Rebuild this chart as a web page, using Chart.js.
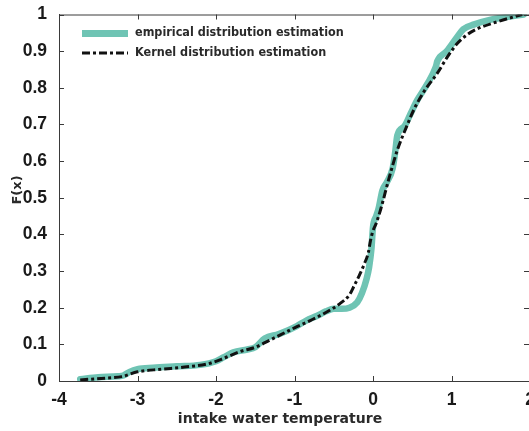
<!DOCTYPE html>
<html>
<head>
<meta charset="utf-8">
<script src="https://cdn.jsdelivr.net/npm/chart.js@4"></script>
<style>
  html, body { margin: 0; padding: 0; background: #fff; }
  #wrap { width: 529px; height: 431px; overflow: hidden; position: relative; }
  #box { width: 542px; height: 431px; }
</style>
</head>
<body>
<div id="wrap"><div id="box"><canvas id="chart"></canvas></div></div>
<script>
// empirical distribution
var empX = [-3.73, -3.5, -3.25, -3.18, -3.1, -3.0, -2.8, -2.5, -2.2, -2.0, -1.9, -1.78, -1.6, -1.5, -1.38, -1.2, -0.97, -0.85, -0.71, -0.6, -0.5, -0.4, -0.3, -0.2, -0.14, -0.08, -0.05, -0.02, 0.0, 0.04, 0.07, 0.12, 0.17, 0.25, 0.28, 0.31, 0.4, 0.48, 0.56, 0.69, 0.8, 0.82, 0.94, 1.07, 1.15, 1.29, 1.5, 1.7, 1.92];
var empF = [0.005, 0.01, 0.013, 0.015, 0.025, 0.032, 0.036, 0.04, 0.044, 0.054, 0.065, 0.078, 0.086, 0.092, 0.116, 0.128, 0.15, 0.165, 0.178, 0.19, 0.197, 0.197, 0.2, 0.215, 0.24, 0.28, 0.31, 0.36, 0.42, 0.45, 0.47, 0.52, 0.54, 0.58, 0.62, 0.67, 0.695, 0.73, 0.765, 0.81, 0.857, 0.873, 0.9, 0.938, 0.96, 0.973, 0.986, 0.993, 1.0];
// kernel estimate
var kerX = [-3.73, -3.4, -3.2, -3.0, -2.7, -2.4, -2.1, -1.9, -1.7, -1.5, -1.3, -1.0, -0.8, -0.6, -0.41, -0.3, -0.24, -0.17, -0.11, -0.06, -0.03, 0.0, 0.04, 0.1, 0.2, 0.31, 0.42, 0.52, 0.65, 0.82, 0.95, 1.07, 1.2, 1.32, 1.58, 1.9];
var kerF = [0.003, 0.008, 0.012, 0.025, 0.032, 0.038, 0.047, 0.062, 0.08, 0.092, 0.113, 0.145, 0.165, 0.187, 0.213, 0.235, 0.26, 0.29, 0.32, 0.35, 0.385, 0.41, 0.43, 0.47, 0.55, 0.63, 0.69, 0.74, 0.79, 0.84, 0.885, 0.92, 0.945, 0.96, 0.98, 1.0];
var xTicks = [-4, -3, -2, -1, 0, 1, 2];
var yTicks = [0, 0.1, 0.2, 0.3, 0.4, 0.5, 0.6, 0.7, 0.8, 0.9, 1];
var seriesNames = ['empirical distribution estimation', 'Kernel distribution estimation'];
var xTitle = 'intake water temperature';
var yTitle = 'F(x)';

var teal = '#6fc4b4';
var axisCol = '#3a3a3a';
var dashDot = [8, 3, 3, 3];

function pts(xs, ys) {
  return xs.map(function (x, i) { return {x: x, y: ys[i]}; });
}

// inward ticks on all sides, top box line, legend and axis titles
var boxPlugin = {
  id: 'boxPlugin',
  afterDraw: function (chart) {
    var ctx = chart.ctx, a = chart.chartArea;
    var xs = chart.scales.x, ys = chart.scales.y;
    ctx.save();
    ctx.strokeStyle = axisCol;
    ctx.lineWidth = 1;
    ctx.beginPath();
    ctx.moveTo(a.left, a.top + 0.5); ctx.lineTo(a.right, a.top + 0.5);
    xTicks.forEach(function (t) {
      var px = Math.round(xs.getPixelForValue(t)) + 0.5;
      ctx.moveTo(px, a.bottom); ctx.lineTo(px, a.bottom - 5);
      ctx.moveTo(px, a.top); ctx.lineTo(px, a.top + 5);
    });
    yTicks.forEach(function (t) {
      var py = Math.round(ys.getPixelForValue(t)) + 0.5;
      ctx.moveTo(a.left, py); ctx.lineTo(a.left + 5, py);
      ctx.moveTo(a.right, py); ctx.lineTo(a.right - 6, py);
    });
    ctx.stroke();

    // legend
    ctx.strokeStyle = teal;
    ctx.lineWidth = 7;
    ctx.beginPath(); ctx.moveTo(82, 33.5); ctx.lineTo(128, 33.5); ctx.stroke();
    ctx.strokeStyle = '#111';
    ctx.lineWidth = 3;
    ctx.setLineDash(dashDot);
    ctx.beginPath(); ctx.moveTo(82, 53); ctx.lineTo(128, 53); ctx.stroke();
    ctx.setLineDash([]);
    ctx.font = 'bold 12.5px "DejaVu Sans Condensed", "DejaVu Sans"';
    ctx.fillStyle = '#2a2a2a';
    ctx.textBaseline = 'middle';
    ctx.textAlign = 'left';
    ctx.fillText(seriesNames[0], 135, 33);
    ctx.fillText(seriesNames[1], 135, 53);

    // axis titles
    ctx.font = 'bold 14px "DejaVu Sans"';
    ctx.textAlign = 'center';
    ctx.fillText(xTitle, 280, 419);
    ctx.translate(18, 190);
    ctx.rotate(-Math.PI / 2);
    ctx.font = 'bold 13px "DejaVu Sans"';
    ctx.fillText(yTitle, 0, 0);
    ctx.restore();
  }
};

new Chart('chart', {
  type: 'scatter',
  data: {
    datasets: [
      {
        data: pts(empX, empF),
        order: 2,
        showLine: true,
        borderColor: teal,
        borderWidth: 6.5,
        pointRadius: 0,
        cubicInterpolationMode: 'monotone',
        borderCapStyle: 'round',
        borderJoinStyle: 'round'
      },
      {
        data: pts(kerX, kerF),
        order: 1,
        showLine: true,
        borderColor: '#111',
        borderWidth: 3,
        borderDash: dashDot,
        pointRadius: 0,
        cubicInterpolationMode: 'monotone'
      }
    ]
  },
  options: {
    responsive: true,
    maintainAspectRatio: false,
    animation: false,
    layout: { autoPadding: false, padding: { top: 10, right: 12, left: 0, bottom: 0 } },
    plugins: { legend: { display: false }, tooltip: { enabled: false } },
    scales: {
      x: {
        type: 'linear', min: -4, max: 2,
        afterBuildTicks: function (s) { s.ticks = xTicks.map(function (v) { return {value: v}; }); },
        grid: { display: false },
        border: { display: true, color: axisCol, width: 1 },
        ticks: { color: '#1a1a1a', font: { family: 'Liberation Sans', size: 17.5, weight: 'bold' }, padding: 1, maxRotation: 0,
                 callback: function (v) { return String(v); } },
        afterFit: function (s) { s.height = 50; }
      },
      y: {
        type: 'linear', min: 0, max: 1,
        afterBuildTicks: function (s) { s.ticks = yTicks.map(function (v) { return {value: v}; }); },
        grid: { display: false },
        border: { display: true, color: axisCol, width: 1 },
        ticks: { color: '#1a1a1a', font: { family: 'Liberation Sans', size: 17.5, weight: 'bold' }, padding: 4,
                 callback: function (v) { return String(Math.round(v * 10) / 10); } },
        afterFit: function (s) { s.width = 59; }
      }
    }
  },
  plugins: [boxPlugin]
});
</script>
</body>
</html>
